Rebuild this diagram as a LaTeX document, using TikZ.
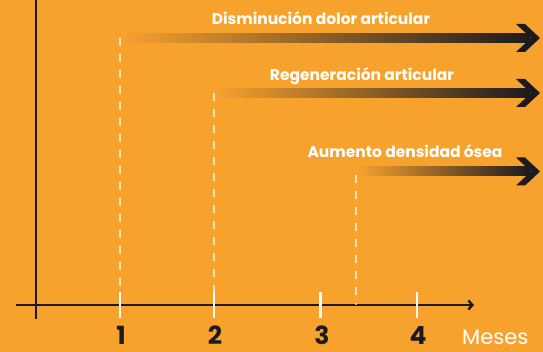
\documentclass[tikz,border=0pt]{standalone}
\usepackage{fontspec}
\setmainfont{Poppins}
\usetikzlibrary{arrows.meta}
\definecolor{fondo}{HTML}{F8A22E}
\definecolor{oscuro}{HTML}{1C1A1E}
\tikzset{
  eje/.style={line width=2.4pt, draw=oscuro},
  marca/.style={line width=2.6pt, draw=white},
  guia/.style={line width=1.8pt, draw=white, draw opacity=0.7, dash pattern=on 8pt off 8pt},
  efecto/.style={font=\bfseries\fontsize{15.5}{17}\selectfont, text=white, inner sep=0pt, anchor=base},
  mes/.style={font=\bfseries\fontsize{25}{27}\selectfont, text=oscuro, inner sep=0pt, text depth=0pt, anchor=north},
  barra/.style={left color=fondo, right color=oscuro},
  punta/.style={fill=oscuro},
}
\begin{document}
\begin{tikzpicture}[x=1pt,y=-1pt]
\fill[fondo] (0,0) rectangle (543,352);
\useasboundingbox (0,0) rectangle (543,352);
% ejes
\coordinate (arriba) at (35.7,0);
\coordinate (abajo) at (35.7,319);
\coordinate (izq) at (15.6,305);
\coordinate (der) at (474,305);
\coordinate (origen) at (35.7,305);
\draw[eje] (arriba) -- (abajo);
\draw[eje, -{Straight Barb[length=4pt,width=9pt]}] (izq) -- (der);
% marcas
\draw[marca] (120,292) -- (120,318);
\draw[marca] (214,292) -- (214,318);
\draw[marca] (320.6,292) -- (320.6,318);
\draw[marca] (417,292) -- (417,318);
\node[mes] (m1) at (121,326) {1};
\node[mes] (m2) at (215,326) {2};
\node[mes] (m3) at (322,326) {3};
\node[mes] (m4) at (418,326) {4};
\node[font=\fontsize{21}{23}\selectfont, text=white, inner sep=0pt, text depth=0pt, anchor=north west] (meses) at (462,330) {Meses};
% guias
\coordinate (ini1) at (120,38);
\coordinate (ini2) at (214,93);
\coordinate (ini3) at (356,175);
\draw[guia] (ini1) -- (ini1 |- origen);
\draw[guia] (ini2) -- (ini2 |- origen);
\draw[guia] (ini3) -- (ini3 |- origen);
% barras
\shade[barra] (121,33.5) rectangle (530,42.5);
\fill[punta] (540,38) -- ++(-15,-14) -- ++(-9,0) -- ++(15,14) -- ++(-15,14) -- ++(9,0) -- cycle;
\shade[barra] (215,88.5) rectangle (530,97.5);
\fill[punta] (540,93) -- ++(-15,-14) -- ++(-9,0) -- ++(15,14) -- ++(-15,14) -- ++(9,0) -- cycle;
\shade[barra] (357,167) rectangle (530,176);
\fill[punta] (540,171.5) -- ++(-15,-14) -- ++(-9,0) -- ++(15,14) -- ++(-15,14) -- ++(9,0) -- cycle;
\node[efecto] (e1) at (321,24.3) {Disminución dolor articular};
\node[efecto] (e2) at (362,81) {Regeneración articular};
\node[efecto] (e3) at (405,158) {Aumento densidad ósea};
\end{tikzpicture}
\end{document}
